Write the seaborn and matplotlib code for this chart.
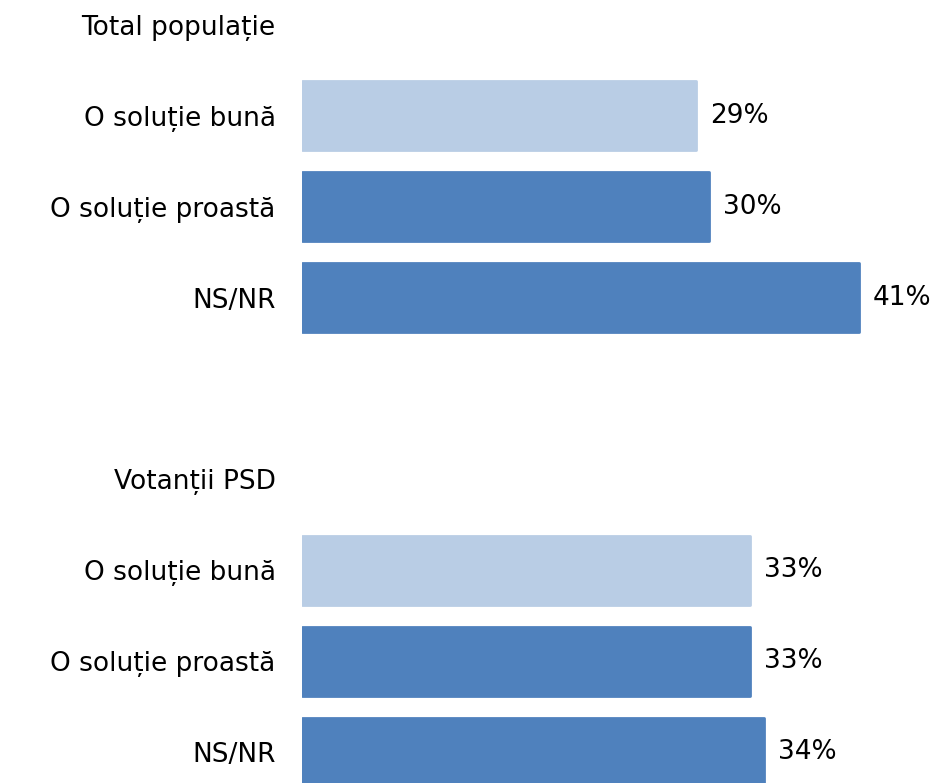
# Import libraries
import pandas as pd
import matplotlib.pyplot as plt
import seaborn as sns

# Data
groups = ['Total populație', 'Votanții PSD']
answers = ['O soluție bună', 'O soluție proastă', 'NS/NR']
total_values = [29, 30, 41]
psd_values = [33, 33, 34]

# Build a long table, one unique key per bar row
rows = []
for g, vals in zip(groups, [total_values, psd_values]):
    for a, v in zip(answers, vals):
        rows.append({'key': g + '|' + a, 'label': a, 'value': v,
                     'kind': 'good' if a == answers[0] else 'other'})
bars = pd.DataFrame(rows)

# Row order: header, three answers, blank spacer, header, three answers
order = [groups[0]] + [groups[0] + '|' + a for a in answers] + [' '] + \
        [groups[1]] + [groups[1] + '|' + a for a in answers]
labels = [k.split('|')[-1] for k in order]

# Set the theme and size of the plot
sns.set_theme(style='white')
plt.rcParams['font.family'] = ['DejaVu Sans']
fig = plt.figure(figsize=(9.38, 7.83), dpi=100)
ax = fig.add_axes([0.322, -0.0128, 0.666, 1.0134])

# Create the plot
sns.barplot(data=bars, x='value', y='key', order=order, hue='kind',
            palette={'good': '#B9CDE5', 'other': '#4F81BD'}, saturation=1,
            width=0.76, legend=False, ax=ax)

# Slightly rounded bar corners
for patch in ax.patches:
    patch.set_edgecolor(patch.get_facecolor())
    patch.set_linewidth(2)
    patch.set_joinstyle('round')

# Value labels
for container in ax.containers:
    ax.bar_label(container, labels=[f'{v:.0f}%' for v in container.datavalues],
                 padding=10, fontsize=19, color='black')

# Axis settings
ax.set_xlim(0, 46)
ax.set_ylim(8.45, -0.28)
ax.set_yticks(range(len(order)))
ax.set_yticklabels(labels, fontsize=19, color='black')
ax.tick_params(axis='y', length=0, pad=19)
ax.set_xticks([])
ax.set_xlabel('')
ax.set_ylabel('')
sns.despine(ax=ax, left=True, bottom=True)

# Save the plot
plt.savefig('out.png', dpi=100)
